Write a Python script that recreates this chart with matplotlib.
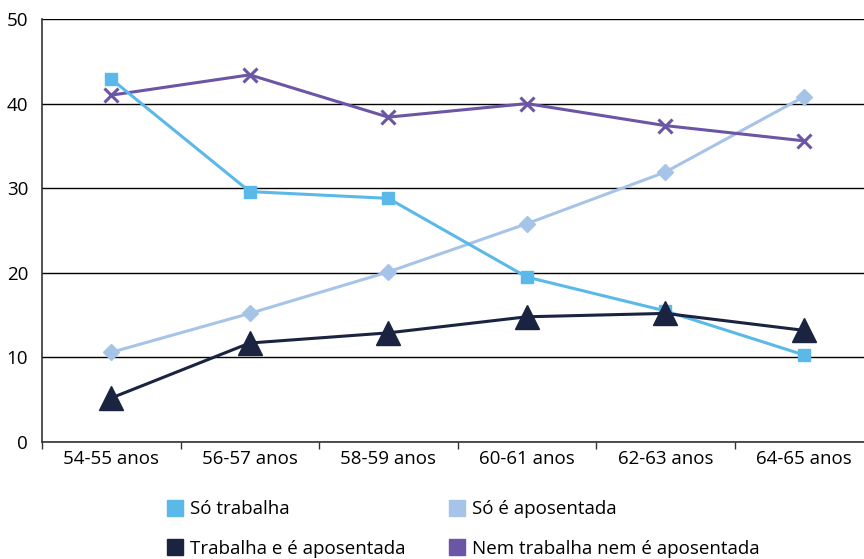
import matplotlib
matplotlib.use("Agg")
import matplotlib.pyplot as plt
from matplotlib.lines import Line2D
import numpy as np

plt.rcParams["font.family"] = ["Open Sans", "DejaVu Sans"]

faixas = ["54-55 anos", "56-57 anos", "58-59 anos", "60-61 anos", "62-63 anos", "64-65 anos"]
so_trabalha = [42.9, 29.6, 28.8, 19.5, 15.5, 10.3]
so_aposentada = [10.6, 15.2, 20.1, 25.8, 31.9, 40.8]
trabalha_aposentada = [5.2, 11.7, 12.9, 14.8, 15.2, 13.2]
nem_nem = [41.0, 43.4, 38.4, 40.0, 37.4, 35.6]
y_ticks = [0, 10, 20, 30, 40, 50]

c_trab = "#5bb9ea"
c_apos = "#a6c4e8"
c_ambos = "#1a2340"
c_nem = "#6b55a5"

fig = plt.figure(figsize=(8.64, 5.59), dpi=100)
# axes run slightly past the right edge of the figure
ax = fig.add_axes([42 / 864, 1 - 442 / 559, 831 / 864, 423 / 559])

x = np.arange(len(faixas))
ax.plot(x, so_aposentada, color=c_apos, lw=2.2, marker="D", ms=8, mec=c_apos, zorder=3)
ax.plot(x, so_trabalha, color=c_trab, lw=2.2, marker="s", ms=9, mec=c_trab, zorder=4)
ax.plot(x, trabalha_aposentada, color=c_ambos, lw=2.2, marker="^", ms=17, mec=c_ambos, zorder=5)
ax.plot(x, nem_nem, color=c_nem, lw=2.2, marker="x", ms=10, mew=2.2, zorder=3)

ax.set_xlim(-0.5, len(faixas) - 0.5)
ax.set_ylim(0, 50)
ax.set_yticks(y_ticks)
ax.set_yticklabels([str(v) for v in y_ticks], fontsize=13.5)
ax.tick_params(axis="y", length=0, pad=10)
ax.yaxis.grid(True, color="black", lw=1)
ax.set_axisbelow(True)

ax.set_xticks(x)
ax.set_xticklabels(faixas, fontsize=13.5)
ax.tick_params(axis="x", which="major", length=0, pad=6)
ax.set_xticks(np.arange(-0.5, len(faixas), 1), minor=True)
ax.tick_params(axis="x", which="minor", length=5, width=1, color="#333333")

for s in ["top", "right"]:
    ax.spines[s].set_visible(False)
for s in ["left", "bottom"]:
    ax.spines[s].set_color("#333333")
    ax.spines[s].set_linewidth(1.2)

def sq(c):
    return Line2D([], [], lw=0, marker="s", ms=12, color=c)

handles = [sq(c_trab), sq(c_ambos), sq(c_apos), sq(c_nem)]
labels = ["Só trabalha", "Trabalha e é aposentada", "Só é aposentada",
          "Nem trabalha nem é aposentada"]
fig.legend(handles, labels, ncol=2, loc="center", bbox_to_anchor=(464 / 864, 1 - 529 / 559),
           frameon=False, fontsize=13.5, handlelength=0.8, handletextpad=0.4,
           columnspacing=2.35, labelspacing=1.15)

fig.savefig("out.png", dpi=100)
